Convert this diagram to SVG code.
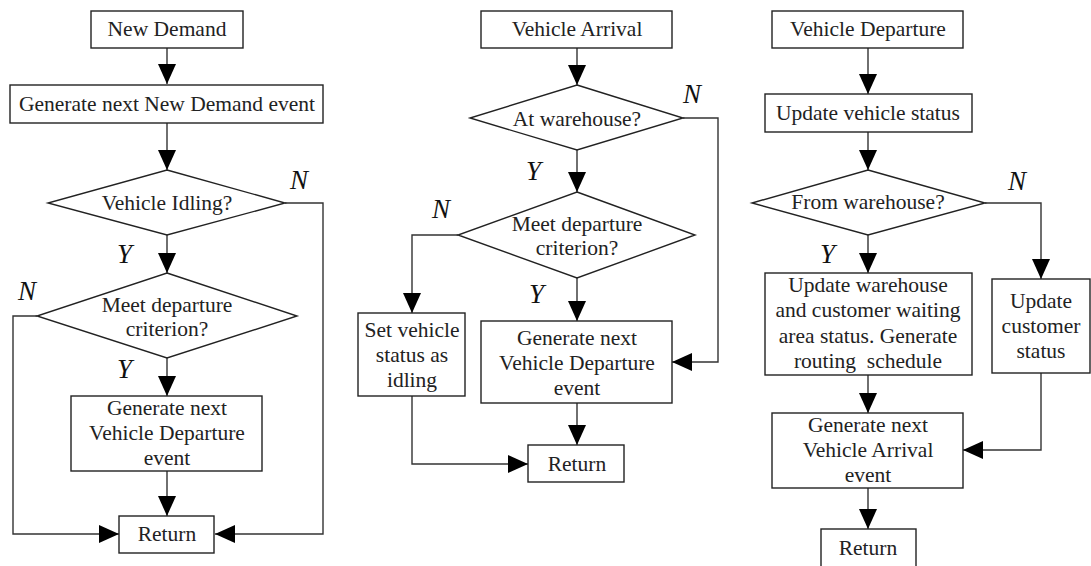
<svg xmlns="http://www.w3.org/2000/svg" width="1091" height="566" viewBox="0 0 1091 566">
<defs>
<marker id="ah" markerUnits="userSpaceOnUse" markerWidth="20" markerHeight="18" refX="20" refY="9" orient="auto">
<path d="M0,0 L20,9 L0,18 z" fill="#000"/>
</marker>
<style>
rect, polygon { fill: #fff; stroke: #222; stroke-width: 1.4; }
.c path { fill: none; stroke: #333; stroke-width: 1.4; marker-end: url(#ah); }
text { font-family: "Liberation Serif", "Times New Roman", serif; font-size: 21.5px; fill: #222; text-anchor: middle; }
text.l { font-style: italic; font-size: 27px; text-anchor: start; fill: #111; }
</style>
</defs>
<rect x="0" y="0" width="1091" height="566" style="fill:#fff;stroke:none"/>

<g class="c" id="connectors">
<path d="M167,48 V84"/>
<path d="M167,123 V170"/>
<path d="M167,235 V273"/>
<path d="M167,358 V396"/>
<path d="M167,471 V516"/>
<path d="M285,203 H323 V534 H215"/>
<path d="M37,316 H13 V534 H119"/>
<path d="M577,48 V85"/>
<path d="M577,150 V192"/>
<path d="M577,278 V321"/>
<path d="M577,403 V445"/>
<path d="M683,118 H718 V362 H672"/>
<path d="M458,235 H412 V313"/>
<path d="M412,396 V464 H528"/>
<path d="M868,48 V94"/>
<path d="M868,132 V170"/>
<path d="M868,235 V273"/>
<path d="M868,375 V413"/>
<path d="M868,488 V529"/>
<path d="M985,203 H1041 V279"/>
<path d="M1041,373 V450 H963"/>
</g>

<g id="nd"><rect x="91" y="11" width="152" height="37"/><text x="167" y="36">New Demand</text></g>
<g id="gnd"><rect x="10" y="85" width="313" height="38"/><text x="167" y="111">Generate next New Demand event</text></g>
<g id="idle"><polygon points="167,170 285,203 167,235 48,203"/><text x="167" y="210">Vehicle Idling?</text></g>
<g id="meet1"><polygon points="167,273 297,316 167,358 37,316"/><text x="167" y="312">Meet departure</text><text x="167" y="336">criterion?</text></g>
<g id="gvd1"><rect x="71" y="396" width="191" height="75"/><text x="167" y="415">Generate next</text><text x="167" y="440">Vehicle Departure</text><text x="167" y="465">event</text></g>
<g id="ret1"><rect x="119" y="516" width="95" height="37"/><text x="167" y="541">Return</text></g>

<g id="va"><rect x="481" y="11" width="191" height="37"/><text x="577" y="36">Vehicle Arrival</text></g>
<g id="atw"><polygon points="577,85 683,118 577,150 470,118"/><text x="577" y="126">At warehouse?</text></g>
<g id="meet2"><polygon points="577,192 695,235 577,278 458,235"/><text x="577" y="231">Meet departure</text><text x="577" y="255">criterion?</text></g>
<g id="setv"><rect x="358" y="313" width="107" height="83"/><text x="412" y="337">Set vehicle</text><text x="412" y="362">status as</text><text x="412" y="387">idling</text></g>
<g id="gvd2"><rect x="481" y="321" width="191" height="82"/><text x="577" y="345">Generate next</text><text x="577" y="370">Vehicle Departure</text><text x="577" y="395">event</text></g>
<g id="ret2"><rect x="528" y="445" width="96" height="37"/><text x="577" y="471">Return</text></g>

<g id="vdep"><rect x="772" y="11" width="191" height="37"/><text x="868" y="36">Vehicle Departure</text></g>
<g id="uvs"><rect x="765" y="94" width="207" height="38"/><text x="868" y="120">Update vehicle status</text></g>
<g id="fw"><polygon points="868,170 985,203 868,235 752,203"/><text x="868" y="209">From warehouse?</text></g>
<g id="uw"><rect x="765" y="273" width="207" height="102"/><text x="868" y="292">Update warehouse</text><text x="868" y="317">and customer waiting</text><text x="868" y="343">area status. Generate</text><text x="868" y="368" style="white-space:pre">routing  schedule</text></g>
<g id="ucs"><rect x="992" y="279" width="98" height="94"/><text x="1041" y="308">Update</text><text x="1041" y="333">customer</text><text x="1041" y="358">status</text></g>
<g id="gva"><rect x="772" y="413" width="191" height="75"/><text x="868" y="432">Generate next</text><text x="868" y="457">Vehicle Arrival</text><text x="868" y="482">event</text></g>
<g id="ret3"><rect x="821" y="529" width="95" height="40"/><text x="868" y="555">Return</text></g>

<g id="labels">
<text class="l" x="290" y="189">N</text>
<text class="l" x="117" y="263">Y</text>
<text class="l" x="18" y="300">N</text>
<text class="l" x="117" y="378">Y</text>
<text class="l" x="683" y="103">N</text>
<text class="l" x="526" y="180">Y</text>
<text class="l" x="432" y="218">N</text>
<text class="l" x="529" y="303">Y</text>
<text class="l" x="1008" y="190">N</text>
<text class="l" x="820" y="263">Y</text>
</g>
</svg>
